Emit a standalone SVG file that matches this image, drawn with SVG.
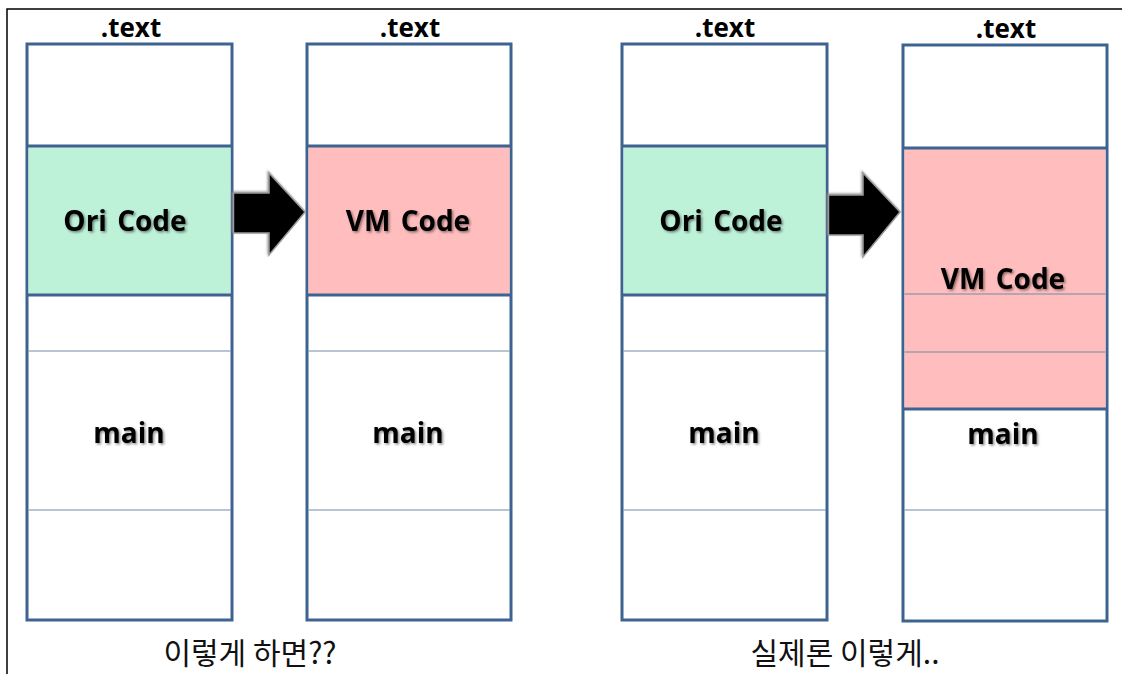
<svg xmlns="http://www.w3.org/2000/svg" width="1122" height="674" viewBox="0 0 1122 674">
  <defs>
    <style>
      .frame { stroke: #000; stroke-width: 1.5; fill: none; }
      .col { fill: #fff; stroke: #3f6390; stroke-width: 3; }
      .thick { stroke: #3f6390; stroke-width: 3; }
      .thin { stroke: #6f89aa; stroke-width: 1.2; }
      .ori { fill: #bdf1d8; }
      .vm { fill: #ffbdbd; }
      .hdr { font-family: "Open Sans", "Noto Sans", sans-serif; font-weight: bold; font-size: 26px; fill: #000; text-anchor: middle; }
      .lbl { font-family: "Open Sans", "Noto Sans", sans-serif; font-weight: bold; font-size: 28px; word-spacing: 3px; fill: #000; text-anchor: middle; filter: url(#shadow); }
      .cap { font-family: "Noto Sans CJK KR", sans-serif; font-size: 30px; fill: #111; text-anchor: middle; }
      .arrow { fill: #000; stroke: #9a9a9a; stroke-width: 1.5; stroke-linejoin: miter; }
    </style>
    <filter id="shadow" x="-10%" y="-30%" width="130%" height="170%">
      <feDropShadow dx="1.5" dy="1.5" stdDeviation="1" flood-color="#000" flood-opacity="0.45"/>
    </filter>
    <filter id="bevel" x="-20%" y="-20%" width="140%" height="140%">
      <feDropShadow dx="-1" dy="-1" stdDeviation="1" flood-color="#888" flood-opacity="0.8"/>
    </filter>
  </defs>

  <!-- page frame (top and left edges) -->
  <path class="frame" d="M7,674 V9 H1122"/>

  <!-- left pair: original section and replacement -->
  <g id="col-ori-1">
    <text class="hdr" x="131" y="37">.text</text>
    <rect class="col" x="27" y="44" width="205" height="576"/>
    <rect class="ori" x="28.5" y="146" width="202" height="149"/>
    <line class="thick" x1="27" y1="146" x2="232" y2="146"/>
    <line class="thick" x1="27" y1="295" x2="232" y2="295"/>
    <line class="thin" x1="28.5" y1="351" x2="230.5" y2="351"/>
    <line class="thin" x1="28.5" y1="510" x2="230.5" y2="510"/>
    <text class="lbl" x="125" y="231">Ori Code</text>
    <text class="lbl" x="129" y="443">main</text>
  </g>

  <g id="col-vm-1">
    <text class="hdr" x="410" y="37">.text</text>
    <rect class="col" x="307" y="44" width="204" height="576"/>
    <rect class="vm" x="308.5" y="146" width="201" height="149"/>
    <line class="thick" x1="307" y1="146" x2="511" y2="146"/>
    <line class="thick" x1="307" y1="295" x2="511" y2="295"/>
    <line class="thin" x1="308.5" y1="351" x2="509.5" y2="351"/>
    <line class="thin" x1="308.5" y1="510" x2="509.5" y2="510"/>
    <text class="lbl" x="408" y="231">VM Code</text>
    <text class="lbl" x="408" y="443">main</text>
  </g>

  <!-- right pair: original section and actual result -->
  <g id="col-ori-2">
    <text class="hdr" x="725" y="37">.text</text>
    <rect class="col" x="622" y="44" width="205" height="576"/>
    <rect class="ori" x="623.5" y="146" width="202" height="149"/>
    <line class="thick" x1="622" y1="146" x2="827" y2="146"/>
    <line class="thick" x1="622" y1="295" x2="827" y2="295"/>
    <line class="thin" x1="623.5" y1="351" x2="825.5" y2="351"/>
    <line class="thin" x1="623.5" y1="510" x2="825.5" y2="510"/>
    <text class="lbl" x="721" y="231">Ori Code</text>
    <text class="lbl" x="724" y="443">main</text>
  </g>

  <g id="col-vm-2">
    <text class="hdr" x="1006" y="38">.text</text>
    <rect class="col" x="903" y="45" width="204" height="576"/>
    <rect class="vm" x="904.5" y="148" width="201" height="261"/>
    <line class="thick" x1="903" y1="148" x2="1107" y2="148"/>
    <line class="thin" x1="904.5" y1="294" x2="1105.5" y2="294"/>
    <line class="thin" x1="904.5" y1="352" x2="1105.5" y2="352"/>
    <line class="thick" x1="903" y1="409" x2="1107" y2="409"/>
    <line class="thin" x1="904.5" y1="510" x2="1105.5" y2="510"/>
    <text class="lbl" x="1003" y="289">VM Code</text>
    <text class="lbl" x="1003" y="444">main</text>
  </g>

  <!-- block arrows between columns -->
  <g id="connectors">
    <path class="arrow" filter="url(#bevel)" d="M233.5,193 H269 V173 L305,212 L269,255 V233 H233.5 Z"/>
    <path class="arrow" filter="url(#bevel)" d="M828.5,195 H863 V173 L900,212 L863,257 V235 H828.5 Z"/>
  </g>

  <!-- captions -->
  <text class="cap" x="250" y="664">이렇게 하면??</text>
  <text class="cap" x="845" y="664">실제론 이렇게..</text>
</svg>
